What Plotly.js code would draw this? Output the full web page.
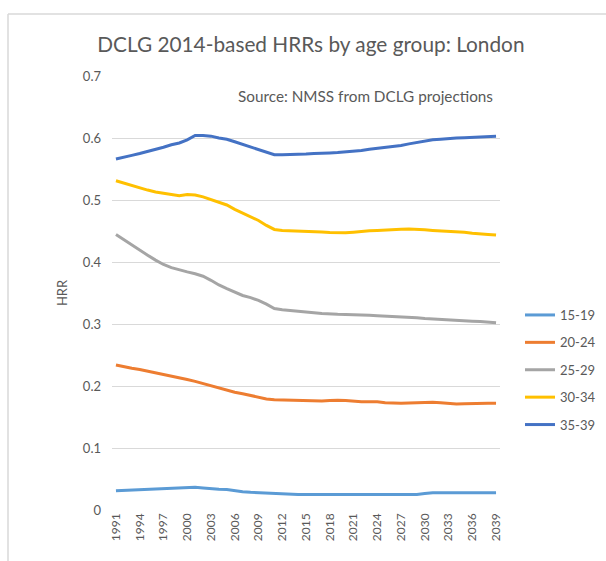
<!DOCTYPE html>
<html>
<head>
<meta charset="utf-8">
<script src="https://cdn.plot.ly/plotly-3.0.1.min.js"></script>
<style>html,body{margin:0;padding:0;background:#fff;}#chart{width:606px;height:561px;}</style>
</head>
<body>
<div id="chart"></div>
<script>
const years = [];
for (let y = 1991; y <= 2039; y++) years.push(y);

const seriesNames = ["15-19", "20-24", "25-29", "30-34", "35-39"];

const v15_19 = [0.031,0.0315,0.032,0.0328,0.0333,0.034,0.0348,0.0355,0.036,0.0363,0.0366,0.0355,0.034,0.0335,0.033,0.031,0.0295,0.0285,0.0278,0.027,0.0265,0.026,0.0255,0.025,0.025,0.025,0.025,0.025,0.025,0.025,0.025,0.025,0.025,0.025,0.025,0.025,0.025,0.025,0.025,0.0265,0.028,0.028,0.028,0.028,0.028,0.028,0.028,0.028,0.028];
const v20_24 = [0.234,0.231,0.2285,0.2265,0.224,0.221,0.219,0.2165,0.2135,0.2105,0.2075,0.204,0.2,0.1965,0.1935,0.19,0.1875,0.1845,0.1815,0.1792,0.178,0.1775,0.1774,0.1773,0.1772,0.1765,0.176,0.1765,0.1772,0.1765,0.175,0.1745,0.1745,0.1745,0.173,0.172,0.172,0.1725,0.173,0.1735,0.1737,0.1728,0.172,0.171,0.1715,0.172,0.172,0.172,0.172];
const v25_29 = [0.4445,0.436,0.427,0.419,0.411,0.403,0.396,0.391,0.387,0.384,0.381,0.377,0.3705,0.363,0.357,0.351,0.346,0.3425,0.338,0.332,0.325,0.323,0.3215,0.3205,0.3195,0.318,0.317,0.316,0.3158,0.3155,0.3153,0.3148,0.314,0.3135,0.313,0.312,0.3115,0.311,0.31,0.3088,0.308,0.307,0.306,0.3055,0.305,0.3045,0.304,0.303,0.302];
const v30_34 = [0.531,0.527,0.523,0.519,0.516,0.513,0.511,0.508,0.507,0.509,0.508,0.505,0.5005,0.497,0.492,0.485,0.479,0.473,0.467,0.459,0.4525,0.451,0.4505,0.4505,0.4505,0.449,0.4485,0.4475,0.447,0.447,0.448,0.4495,0.4505,0.451,0.452,0.453,0.453,0.4532,0.453,0.452,0.451,0.4505,0.4495,0.449,0.448,0.4465,0.445,0.4445,0.4435];
const v35_39 = [0.566,0.5695,0.572,0.575,0.578,0.582,0.585,0.589,0.592,0.597,0.604,0.604,0.603,0.6,0.598,0.594,0.59,0.586,0.582,0.577,0.573,0.573,0.573,0.5735,0.574,0.575,0.575,0.576,0.5765,0.5775,0.579,0.58,0.582,0.5835,0.585,0.586,0.588,0.5905,0.593,0.595,0.597,0.598,0.5995,0.600,0.6005,0.601,0.6015,0.603,0.603];

const seriesValues = [v15_19, v20_24, v25_29, v30_34, v35_39];
const colors = ["#5B9BD5", "#ED7D31", "#A5A5A5", "#FFC000", "#4472C4"];

const yTicks = [0, 0.1, 0.2, 0.3, 0.4, 0.5, 0.6, 0.7];
const yTickText = ["0", "0.1", "0.2", "0.3", "0.4", "0.5", "0.6", "0.7"];
const xTicks = years.filter(y => (y - 1991) % 3 === 0);

const traces = seriesNames.map((n, i) => ({
  x: years, y: seriesValues[i], name: n, legendgroup: n, type: "scatter", mode: "lines",
  line: {color: colors[i], width: 3, shape: "linear"}
}));

const W = 606, H = 561, mL = 112, mR = 106, mT = 76, mB = 51;
const pw = W - mL - mR, ph = H - mT - mB;
const px = p => (p - mL) / pw;
const py = p => (H - mB - p) / ph;

const font = "Lato, 'Open Sans', sans-serif";

const layout = {
  width: W, height: H,
  margin: {l: mL, r: mR, t: mT, b: mB, pad: 0, autoexpand: false},
  paper_bgcolor: "#ffffff", plot_bgcolor: "#ffffff",
  font: {family: font, color: "#595959", size: 13},
  title: {text: "DCLG 2014-based HRRs by age group: London", x: 0.513, xanchor: "center", y: 0.92, yanchor: "middle",
          font: {family: font, size: 20.8, color: "#595959"}},
  xaxis: {
    range: [1990.5, 2039.5], tickvals: xTicks, ticktext: xTicks.map(String),
    tickangle: -90, tickfont: {size: 12, color: "#595959"},
    showgrid: false, zeroline: false, showline: false, ticks: "", ticklen: 0, automargin: false
  },
  yaxis: {
    range: [0, 0.7], tickvals: yTicks, ticktext: yTickText,
    tickfont: {size: 13, color: "#595959"}, ticklabelstandoff: 10,
    showgrid: true, gridcolor: "#D9D9D9", gridwidth: 1,
    zeroline: false, showline: false, ticks: "", ticklen: 0, automargin: false,
    title: {text: "HRR", font: {size: 13, color: "#595959"}, standoff: 12}
  },
  legend: {
    x: px(520), xanchor: "left", y: py(300), yanchor: "top",
    font: {size: 13, color: "#595959"}, tracegroupgap: 7.5,
    itemwidth: 30, bgcolor: "rgba(0,0,0,0)"
  },
  annotations: [{
    text: "Source: NMSS from DCLG projections", xref: "paper", yref: "paper",
    x: px(495), xanchor: "right", y: py(96), yanchor: "middle", showarrow: false,
    font: {size: 15.3, color: "#595959"}
  }],
  shapes: [
    {type: "line", xref: "paper", yref: "paper", x0: px(8), x1: px(606), y0: py(14), y1: py(14), line: {color: "#D9D9D9", width: 1.5}},
    {type: "line", xref: "paper", yref: "paper", x0: px(8), x1: px(8), y0: py(14), y1: py(561), line: {color: "#D9D9D9", width: 1.5}}
  ]
};

Plotly.newPlot("chart", traces, layout, {displayModeBar: false, staticPlot: true});
</script>
</body>
</html>
